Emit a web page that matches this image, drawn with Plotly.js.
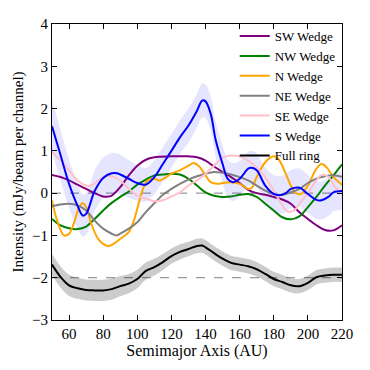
<!DOCTYPE html>
<html>
<head>
<meta charset="utf-8">
<script src="https://cdn.plot.ly/plotly-3.0.1.min.js"></script>
<style>
  html, body { margin: 0; padding: 0; background: #fff; }
  #chart { width: 370px; height: 370px; }
</style>
</head>
<body>
<div id="chart"></div>
<script>
// SW wedge
var swX = [50,55,60,65,70,75,80,83,85,90,95,100,105,110,120,130,135,140,145,150,155,160,165,170,175,180,185,190,195,200,205,210,215,220];
var swY = [0.43,0.38,0.3,0.2,0.1,0,-0.08,-0.08,-0.06,0.14,0.42,0.65,0.79,0.85,0.87,0.87,0.85,0.77,0.63,0.5,0.38,0.24,0.08,0,-0.04,-0.09,-0.15,-0.25,-0.45,-0.61,-0.76,-0.87,-0.88,-0.76];

// NW wedge
var nwX = [50,55,60,65,70,75,80,85,90,95,100,105,110,115,120,125,130,135,140,145,150,155,160,165,170,175,180,185,190,195,200,205,210,215,220];
var nwY = [-0.61,-0.76,-0.83,-0.85,-0.79,-0.61,-0.41,-0.23,-0.09,0.04,0.2,0.32,0.42,0.44,0.46,0.44,0.34,0.18,0.02,-0.06,-0.09,-0.08,-0.04,-0.02,-0.09,-0.25,-0.41,-0.57,-0.62,-0.55,-0.33,-0.09,0.18,0.42,0.68];

// N wedge
var nX = [50,53,57,60,63,66,68,70,73,77,80,83,86,90,95,98,100,103,106,110,113,117,120,125,130,133,136,140,143,147,150,155,160,165,167,170,175,180,183,187,190,193,196,200,205,208,211,215,220];
var nY = [-0.17,-0.65,-1.0,-0.96,-0.69,-0.33,-0.24,-0.33,-0.72,-1.08,-1.2,-1.25,-1.2,-1.08,-0.92,-0.65,-0.37,0.06,0.3,0.34,0.3,0.38,0.46,0.54,0.65,0.71,0.64,0.42,0.26,0.22,0.24,0.26,0.22,0.1,0.12,0.38,0.73,0.87,0.79,0.46,0.18,0,-0.02,0.18,0.58,0.69,0.61,0.38,0.2];

// NE wedge
var neX = [50,55,60,65,70,75,80,85,88,90,95,100,105,110,115,120,125,130,135,140,145,150,155,160,165,170,175,180,185,190,195,200,205,210,215,220];
var neY = [-0.31,-0.27,-0.25,-0.29,-0.41,-0.65,-0.84,-0.96,-1.0,-0.96,-0.84,-0.69,-0.45,-0.24,-0.04,0.1,0.22,0.32,0.4,0.46,0.5,0.48,0.44,0.38,0.3,0.18,0.06,-0.02,-0.04,0.02,0.1,0.24,0.34,0.4,0.42,0.39];

// SE wedge
var seX = [50,55,60,65,70,73,77,80,85,90,95,100,105,110,115,120,125,130,135,140,145,150,155,160,165,170,175,180,185,188,192,195,200,205,208,212,216,220];
var seY = [0.98,0.77,0.54,0.3,0.18,0.18,0.3,0.38,0.4,0.3,0.1,-0.06,-0.13,-0.19,-0.17,-0.08,0.02,0.18,0.3,0.46,0.65,0.84,0.89,0.87,0.77,0.61,0.38,0.06,-0.29,-0.43,-0.41,-0.25,0,0.3,0.43,0.38,0.14,0.02];

// S wedge with its uncertainty
var sX = [50,55,60,65,68,70,75,80,85,88,90,95,100,105,110,115,120,125,130,135,138,140,143,146,150,153,156,160,165,167,170,175,180,183,187,190,195,200,205,208,212,215,220];
var sY = [1.58,0.9,0.22,-0.3,-0.53,-0.49,0.05,0.36,0.47,0.47,0.44,0.34,0.24,0.2,0.38,0.69,1.0,1.32,1.6,1.95,2.19,2.17,1.88,1.25,0.69,0.34,0.26,0.34,0.58,0.6,0.54,0.18,-0.02,-0.05,0,0.1,0.13,-0.02,-0.16,-0.17,-0.09,0.02,0.05];
var sErr = [0.62,0.6,0.57,0.53,0.5,0.5,0.48,0.48,0.48,0.47,0.47,0.45,0.42,0.4,0.4,0.4,0.4,0.4,0.4,0.4,0.4,0.4,0.4,0.42,0.45,0.45,0.45,0.42,0.4,0.4,0.4,0.42,0.45,0.45,0.45,0.45,0.45,0.45,0.45,0.45,0.45,0.45,0.45];

// full ring (offset by -2) with its uncertainty
var fX = [50,55,60,65,70,75,80,85,90,95,100,105,110,115,120,125,130,135,138,140,145,150,155,160,165,170,175,180,185,190,195,200,205,210,215,220];
var fY = [-1.69,-1.98,-2.18,-2.25,-2.29,-2.3,-2.3,-2.27,-2.2,-2.14,-2.03,-1.84,-1.75,-1.63,-1.49,-1.39,-1.32,-1.25,-1.24,-1.28,-1.42,-1.55,-1.65,-1.69,-1.73,-1.8,-1.91,-2.03,-2.1,-2.18,-2.2,-2.12,-1.99,-1.95,-1.93,-1.93];
var fErr = [0.25,0.25,0.25,0.25,0.25,0.25,0.25,0.25,0.24,0.23,0.22,0.2,0.2,0.19,0.18,0.18,0.17,0.17,0.17,0.17,0.17,0.17,0.17,0.17,0.17,0.17,0.17,0.17,0.17,0.17,0.17,0.17,0.17,0.17,0.17,0.17];

function band(x, y, err, color) {
  var up = y.map((v, i) => v + err[i]);
  var lo = y.map((v, i) => v - err[i]);
  return [
    { x: x, y: up, mode: "lines", line: { width: 0, shape: "spline" }, showlegend: false, hoverinfo: "skip" },
    { x: x, y: lo, mode: "lines", line: { width: 0, shape: "spline" }, fill: "tonexty", fillcolor: color, showlegend: false, hoverinfo: "skip" }
  ];
}

function line(x, y, name, color) {
  return { x: x, y: y, name: name, mode: "lines", line: { color: color, width: 2, shape: "spline" } };
}

var data = []
  .concat(band(sX, sY, sErr, "rgba(0,0,255,0.1)"))
  .concat(band(fX, fY, fErr, "rgba(0,0,0,0.2)"))
  .concat([
    line(swX, swY, "SW Wedge", "purple"),
    line(nwX, nwY, "NW Wedge", "green"),
    line(nX, nY, "N Wedge", "orange"),
    line(neX, neY, "NE Wedge", "gray"),
    line(seX, seY, "SE Wedge", "pink"),
    line(sX, sY, "S Wedge", "blue"),
    line(fX, fY, "Full ring", "black")
  ]);

var font = "Liberation Serif, DejaVu Serif, serif";
var axis = {
  showline: true, mirror: "ticks", linecolor: "black", linewidth: 1,
  ticks: "inside", ticklen: 5, tickcolor: "black", tickwidth: 1,
  showgrid: false, zeroline: false,
  tickfont: { family: font, size: 15, color: "black" }
};

var layout = {
  width: 370, height: 370,
  margin: { l: 52, r: 28, t: 24, b: 50 },
  paper_bgcolor: "white", plot_bgcolor: "white",
  font: { family: font, color: "black" },
  xaxis: Object.assign({}, axis, {
    range: [50, 220], dtick: 20, tick0: 60,
    title: { text: "Semimajor Axis (AU)", font: { family: font, size: 16 }, standoff: 2 }
  }),
  yaxis: Object.assign({}, axis, {
    range: [-3, 4], dtick: 1,
    title: { text: "Intensity (mJy/beam per channel)", font: { family: font, size: 15 }, standoff: 4 }
  }),
  shapes: [0, -2].map(v => ({
    type: "line", xref: "paper", x0: 0, x1: 1, yref: "y", y0: v, y1: v,
    line: { color: "gray", width: 1, dash: "dash" }, layer: "below"
  })),
  legend: {
    x: 0.63, y: 1.01, xanchor: "left", yanchor: "top",
    traceorder: "normal",
    bgcolor: "rgba(0,0,0,0)", font: { family: font, size: 13 },
    itemwidth: 30
  },
  showlegend: true
};

Plotly.newPlot("chart", data, layout, { displayModeBar: false, staticPlot: true });
</script>
</body>
</html>
